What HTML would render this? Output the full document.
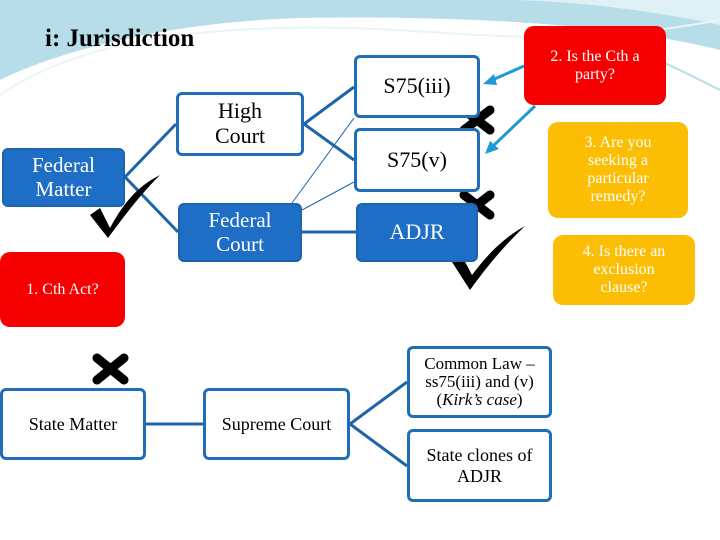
<!DOCTYPE html>
<html><head><style>
body{margin:0;width:720px;height:540px;overflow:hidden;background:#fff;font-family:"Liberation Serif",serif;position:relative}
.b{position:absolute;box-sizing:border-box;border-radius:6px;display:flex;align-items:center;justify-content:center;text-align:center;line-height:1.12}
.w{background:#fff;border:3px solid #1f6fb8;color:#000}
.f{background:#1d6ec4;border:2px solid #1a64b0;color:#fff}
.r{background:#f40000;color:#fff;border-radius:10px}
.y{background:#fbbe05;color:#fff;border-radius:10px}
svg{position:absolute;left:0;top:0}
</style></head><body>
<svg width="720" height="540">
<path d="M0 0 H720 V50 C620 25 470 15 300 18 C170 22 60 50 0 80 Z" fill="#b7dde9"/>
<path d="M0 0 H720 V25 C640 8 560 0 500 0 Z" fill="#dff1f5"/>
<path d="M0 95 C80 40 200 25 350 28 C480 32 560 50 720 20" stroke="#e8f5f8" stroke-width="2" fill="none"/>
<path d="M500 0 C600 30 660 60 720 90" stroke="#b7dde9" stroke-width="2" fill="none"/>
<g stroke="#1f64a8" stroke-width="3" fill="none">
<line x1="125" y1="177" x2="176" y2="124"/><line x1="125" y1="177" x2="178" y2="232"/>
<line x1="304" y1="124" x2="354" y2="87"/><line x1="304" y1="124" x2="354" y2="160"/>
<line x1="302" y1="232" x2="356" y2="232"/>
<line x1="146" y1="424" x2="203" y2="424"/>
<line x1="350" y1="424" x2="407" y2="382"/><line x1="350" y1="424" x2="407" y2="466"/>
</g>
<g stroke="#1f64a8" stroke-width="1"><line x1="292" y1="203" x2="354" y2="118"/><line x1="302" y1="210" x2="354" y2="182"/></g>
<g stroke="#1e9ad6" stroke-width="3" fill="#1e9ad6">
<line x1="524" y1="66" x2="490" y2="81"/><polygon points="483,84 494,74 497,85" stroke="none"/>
<line x1="535" y1="106" x2="492" y2="147"/><polygon points="485,154 490,141 499,149" stroke="none"/>
</g>
<g stroke="#000" stroke-width="9" stroke-linecap="round">
<line x1="464" y1="110" x2="490" y2="130"/><line x1="490" y1="110" x2="464" y2="130"/>
<line x1="464" y1="195" x2="490" y2="215"/><line x1="490" y1="195" x2="464" y2="215"/>
<line x1="97" y1="358" x2="124" y2="380"/><line x1="124" y1="358" x2="97" y2="380"/>
</g>
<path d="M90 215 L100 208 L110 228 C125 200 140 185 160 175 C140 195 125 215 108 238 Z" fill="#000"/>
<path d="M452 262 L462 256 L472 275 C485 258 500 240 525 226 C505 245 488 265 470 290 Z" fill="#000"/>
</svg>
<div style="position:absolute;left:45px;top:25px;font-size:25px;font-weight:bold;color:#000">i: Jurisdiction</div>
<div class="b f" style="left:2px;top:148px;width:123px;height:59px;font-size:21px"><span>Federal<br>Matter</span></div>
<div class="b w" style="left:176px;top:92px;width:128px;height:64px;font-size:22px"><span>High<br>Court</span></div>
<div class="b f" style="left:178px;top:203px;width:124px;height:59px;font-size:21px"><span>Federal<br>Court</span></div>
<div class="b w" style="left:354px;top:55px;width:126px;height:63px;font-size:22px"><span>S75(iii)</span></div>
<div class="b w" style="left:354px;top:128px;width:126px;height:64px;font-size:22px"><span>S75(v)</span></div>
<div class="b f" style="left:356px;top:203px;width:122px;height:59px;font-size:22px"><span>ADJR</span></div>
<div class="b r" style="left:524px;top:26px;width:142px;height:79px;font-size:16px"><span>2. Is the Cth a<br>party?</span></div>
<div class="b y" style="left:548px;top:122px;width:140px;height:96px;font-size:16px"><span>3. Are you<br>seeking a<br>particular<br>remedy?</span></div>
<div class="b y" style="left:553px;top:235px;width:142px;height:70px;font-size:16px"><span>4. Is there an<br>exclusion<br>clause?</span></div>
<div class="b r" style="left:0;top:252px;width:125px;height:75px;font-size:16px"><span>1. Cth Act?</span></div>
<div class="b w" style="left:0;top:388px;width:146px;height:72px;font-size:18px"><span>State Matter</span></div>
<div class="b w" style="left:203px;top:388px;width:147px;height:72px;font-size:18px"><span>Supreme Court</span></div>
<div class="b w" style="left:407px;top:346px;width:145px;height:72px;font-size:17px;line-height:1.05"><span>Common Law –<br>ss75(iii) and (v)<br>(<i>Kirk’s case</i>)</span></div>
<div class="b w" style="left:407px;top:429px;width:145px;height:73px;font-size:18px"><span>State clones of<br>ADJR</span></div>
</body></html>
